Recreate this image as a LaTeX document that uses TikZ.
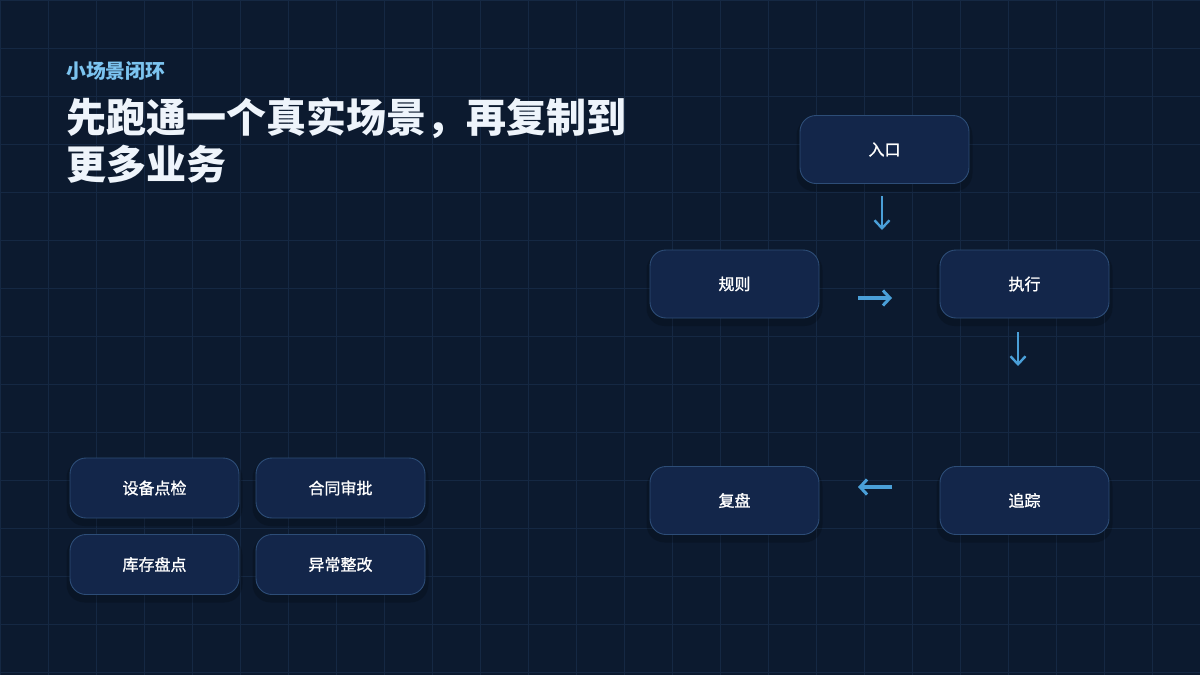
\documentclass[tikz,border=0pt]{standalone}
\usepackage{fontspec}
\setmainfont{Noto Sans CJK SC}
\newfontfamily\cjk{Noto Sans CJK SC}
\newfontfamily\cjkm[FakeBold=1.3]{Noto Sans CJK SC}
\usetikzlibrary{arrows.meta}
\definecolor{bg}{HTML}{0C1A2F}
\definecolor{gridc}{HTML}{152843}
\definecolor{boxfill}{HTML}{13264A}
\definecolor{boxline}{HTML}{2D4D77}
\definecolor{arrowc}{HTML}{4A9FD8}
\definecolor{kicker}{HTML}{7CC4F0}
\definecolor{titlec}{HTML}{EEF4FB}
\tikzset{
  flowbox/.style={draw=boxline, line width=0.9pt, fill=boxfill, rounded corners=16pt,
    minimum width=169pt, minimum height=68pt, text=white, font=\cjkm\fontsize{16}{18}\selectfont},
  smallbox/.style={flowbox, minimum height=60pt},
  shadowbox/.style={fill=black, opacity=0.18, rounded corners=18pt},
  arrh/.style={draw=arrowc, line width=3.4pt, -{Straight Barb[length=7pt,width=15pt,line width=3pt]}},
  arrv/.style={draw=arrowc, line width=2.4pt, -{Straight Barb[length=8pt,width=15pt,line width=2.4pt]}},
}
\begin{document}
\begin{tikzpicture}[x=1pt,y=-1pt]
\fill[bg] (0,0) rectangle (1200,675);
\useasboundingbox (0,0) rectangle (1200,675);
\foreach \i in {0,48,...,1200} \draw[gridc, line width=0.8pt] (\i,0) -- (\i,675);
\foreach \j in {0,48,...,672} \draw[gridc, line width=0.8pt] (0,\j) -- (1200,\j);

\node[anchor=west, text=kicker, font=\cjk\bfseries\fontsize{19.8}{22}\selectfont, inner sep=0pt] (kick) at (66,71) {小场景闭环};
\node[anchor=north west, text=titlec, font=\cjk\bfseries\fontsize{40}{47}\selectfont, inner sep=0pt, align=left] (title) at (66,97) {先跑通一个真实场景，再复制到\\更多业务};

% shadows
\foreach \x/\y/\h in {884.5/149.5/68, 734.5/284/68, 1024.5/284/68, 734.5/500.5/68, 1024.5/500.5/68, 154.5/488/60, 340.5/488/60, 154.5/564.5/60, 340.5/564.5/60}
  \fill[shadowbox] (\x-88,\y-\h/2+2) rectangle (\x+88,\y+\h/2+8);

\node[flowbox] (entry) at (884.5,149.5) {入口};
\node[flowbox] (rule) at (734.5,284) {规则};
\node[flowbox] (exec) at (1024.5,284) {执行};
\node[flowbox] (review) at (734.5,500.5) {复盘};
\node[flowbox] (track) at (1024.5,500.5) {追踪};

\node[smallbox] (s1) at (154.5,488) {设备点检};
\node[smallbox] (s2) at (340.5,488) {合同审批};
\node[smallbox] (s3) at (154.5,564.5) {库存盘点};
\node[smallbox] (s4) at (340.5,564.5) {异常整改};

\coordinate (a1s) at (882,196);
\coordinate (a1e) at (882,230);
\coordinate (a2s) at (858,298);
\coordinate (a2e) at (892,298);
\coordinate (a3s) at (1018,332);
\coordinate (a3e) at (1018,366);
\coordinate (a4s) at (892,487);
\coordinate (a4e) at (858,487);
\draw[arrv] (a1s) -- (a1e);
\draw[arrh] (a2s) -- (a2e);
\draw[arrv] (a3s) -- (a3e);
\draw[arrh] (a4s) -- (a4e);
\end{tikzpicture}
\end{document}
